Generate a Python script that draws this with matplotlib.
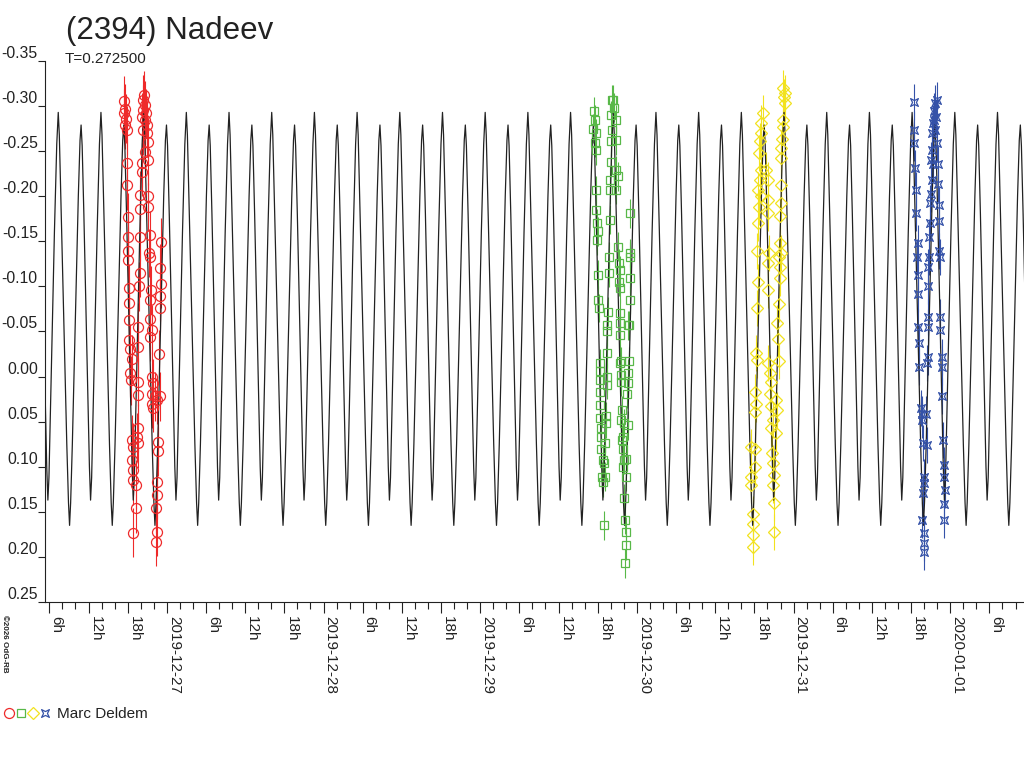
import matplotlib
matplotlib.use("Agg")
import matplotlib.pyplot as plt
import matplotlib.dates as mdates
import numpy as np
from matplotlib.lines import Line2D
from matplotlib.path import Path
from matplotlib.ticker import FixedLocator, FuncFormatter

plt.rcParams["font.family"] = ["Liberation Sans", "DejaVu Sans"]

TITLE = "(2394) Nadeev"
PERIOD_LABEL = "T=0.272500"
OBSERVER = "Marc Deldem"

# model lightcurve: one rotation, phase from the brighter maximum
PERIOD = 0.2725                       # days
EPOCH_DATE, EPOCH_HOUR = "2019-12-29", 7.30
PHASE = [0.000, 0.025, 0.060, 0.130, 0.200, 0.240, 0.265, 0.290, 0.330, 0.400,
         0.470, 0.510, 0.535, 0.560, 0.600, 0.670, 0.730, 0.757, 0.782, 0.840,
         0.910, 0.965, 1.000]
SHAPE = [-0.293, -0.268, -0.200, -0.060, 0.075, 0.140, 0.165, 0.140, 0.075, -0.065,
         -0.200, -0.262, -0.279, -0.256, -0.180, -0.030, 0.100, 0.137, 0.112, -0.010,
         -0.160, -0.258, -0.293]

# session 1 : 2019-12-26 (hours UT, relative magnitude)
S1_DATE = "2019-12-26"
S1_HOUR = [17.47, 17.57, 17.47, 17.72, 17.57, 17.82, 17.93, 17.93, 17.98, 18.08,
           18.08, 18.08, 18.18, 18.23, 18.23, 18.23, 18.33, 18.59, 18.33, 18.44,
           18.59, 18.85, 18.59, 18.74, 18.85, 19.20, 19.20, 18.85,
           20.53, 20.38, 20.63, 20.27, 20.78, 20.12, 20.63, 20.89, 20.38, 20.99,
           21.14, 20.63, 21.14, 20.12, 20.12,
           19.87, 21.14, 19.87, 21.14, 19.87, 21.40, 21.30, 21.40, 19.87, 19.76,
           21.50, 21.40, 21.40, 19.61, 21.65, 21.40, 19.61, 21.65, 21.91, 19.51,
           21.65, 22.16, 21.65, 22.42, 22.93, 21.91, 19.61, 19.61, 19.36, 19.61,
           22.67, 22.67, 22.42, 22.42, 22.32, 22.42, 22.32,
           23.03, 22.93, 23.03, 22.93, 22.93, 22.83]
S1_MAG = [-0.306, -0.297, -0.292, -0.286, -0.279, -0.273, -0.237, -0.212, -0.177, -0.155,
          -0.139, -0.129, -0.098, -0.082, -0.063, -0.041, -0.031, -0.019, -0.004, 0.004,
          0.070, 0.078, 0.092, 0.104, 0.115, 0.120, 0.146, 0.173,
          -0.312, -0.307, -0.301, -0.296, -0.292, -0.288, -0.285, -0.279, -0.273, -0.270,
          -0.260, -0.249, -0.240, -0.237, -0.227,
          -0.201, -0.200, -0.186, -0.188, -0.155, -0.157, -0.137, -0.133, -0.115, -0.100,
          -0.096, -0.085, -0.064, -0.055, -0.052, -0.044, -0.033, 0.000, 0.007, 0.006,
          0.019, 0.022, 0.030, 0.026, 0.022, 0.035, 0.020, 0.057, 0.067, 0.074,
          0.072, 0.083, 0.117, 0.131, 0.146, 0.172, 0.183,
          -0.149, -0.120, -0.103, -0.089, -0.076, -0.025]
S1_ERR = 0.027

# session 2 : 2019-12-29
S2_DATE = "2019-12-29"
S2_HOUR = [17.37, 17.53, 17.27, 17.68, 17.53, 17.78, 17.78, 17.78, 17.89, 18.04,
           17.94, 18.04, 18.04, 18.14, 18.29, 18.29, 18.40, 18.40, 18.40, 18.40,
           18.55, 18.55, 18.55, 18.80, 18.70, 18.80, 18.91,
           18.96, 19.06, 19.21, 19.31, 19.16, 19.42, 19.42, 19.47, 19.42, 19.47,
           19.57, 19.67, 19.72, 19.82, 19.93, 19.82, 20.08, 20.08, 20.23, 20.08,
           20.49, 20.23, 20.34, 20.85, 20.74, 20.85, 21.10, 20.85,
           21.10, 21.25, 21.36, 21.25, 21.36, 21.36, 21.46, 21.36, 21.61, 21.36,
           21.61, 21.61, 21.76, 21.61, 21.97, 21.87, 21.76, 21.87, 21.97, 21.87,
           22.38, 21.97, 22.12, 22.27, 22.27, 22.12,
           22.99, 22.89, 22.99, 22.89, 22.89, 22.79, 22.63, 22.73, 22.63, 22.63,
           22.48, 22.63, 22.38]
S2_MAG = [-0.294, -0.285, -0.275, -0.270, -0.259, -0.251, -0.207, -0.185, -0.170, -0.161,
          -0.151, -0.113, -0.085, -0.076, -0.015, -0.006, 0.004, 0.017, 0.031, 0.046,
          0.057, 0.067, 0.080, 0.092, 0.111, 0.117, 0.165,
          0.096, 0.111, 0.052, 0.044, 0.074, 0.009, 0.001, -0.026, -0.050, -0.057,
          -0.072, -0.115, -0.133, -0.174, -0.207, -0.218, -0.238, -0.261, -0.273, -0.290,
          -0.298, -0.307, -0.307, -0.262, -0.285, -0.229, -0.222, -0.207,
          -0.144, -0.126, -0.118, -0.105, -0.098, -0.070, -0.059, -0.046, -0.017, -0.015,
          -0.002, 0.006, 0.037, 0.048, 0.052, 0.067, 0.070, 0.080, 0.092, 0.100,
          0.111, 0.135, 0.159, 0.172, 0.187, 0.207,
          -0.181, -0.137, -0.133, -0.109, -0.085, -0.057, -0.057, -0.017, -0.004, 0.007,
          0.019, 0.054, 0.091]
S2_ERR = 0.016

# session 3 : 2019-12-30
S3_DATE = "2019-12-30"
S3_HOUR = [19.31, 19.05, 18.95, 18.80, 18.64, 19.05, 18.80, 18.54, 18.95, 18.64,
           18.54, 18.44, 18.54, 18.44, 18.29, 18.44, 18.13, 18.29, 18.13, 17.42,
           18.03, 18.13, 17.42, 17.52, 17.78, 17.78, 17.78, 17.78,
           19.82, 20.07, 20.07, 20.07, 20.18, 20.07, 20.07, 20.07, 20.33, 20.48,
           20.33, 20.58, 20.84, 20.48, 20.69, 20.84, 20.99, 20.84, 20.99, 20.99,
           21.35, 21.50, 21.35, 21.71, 21.61, 21.50, 21.71, 21.86, 21.86, 21.76,
           22.01, 21.86, 21.86, 22.12, 22.01, 22.01, 22.12, 22.22, 22.37, 22.37,
           22.63, 22.52, 22.63, 22.37]
S3_MAG = [-0.292, -0.281, -0.270, -0.261, -0.248, -0.229, -0.218, -0.207, -0.200, -0.188,
          -0.170, -0.139, -0.105, -0.076, -0.026, -0.018, 0.017, 0.030, 0.039, 0.078,
          0.080, 0.100, 0.111, 0.120, 0.152, 0.163, 0.176, 0.189,
          -0.229, -0.218, -0.196, -0.181, -0.137, -0.126, -0.096, -0.015, -0.004, 0.006,
          0.019, 0.033, 0.048, 0.057, 0.085, 0.096, 0.109, 0.120, 0.140, 0.172,
          0.063, 0.037, 0.026, -0.017, -0.042, -0.059, -0.081, -0.109, -0.122, -0.133,
          -0.137, -0.148, -0.178, -0.192, -0.212, -0.242, -0.253, -0.264, -0.277, -0.285,
          -0.303, -0.310, -0.314, -0.320]
S3_ERR = 0.02

# session 4 : 2019-12-31
S4_DATE = "2019-12-31"
S4_HOUR = [18.50, 18.50, 18.50, 18.60, 18.70, 18.70, 19.01, 18.86, 19.01, 19.11,
           19.11, 19.21, 19.21, 19.52, 19.62, 19.73, 19.88, 20.03, 20.03, 19.88,
           19.73, 20.03, 20.03, 20.03,
           20.24, 20.39, 20.39, 20.64, 20.64, 20.54, 20.64, 20.64, 20.75, 20.75,
           20.90, 20.90, 21.05, 21.15, 21.05, 21.26, 21.15, 21.41, 21.56, 21.66,
           21.92, 21.56, 21.66, 21.77, 21.41,
           21.92, 22.07, 22.18, 22.28, 22.28, 22.28, 22.43, 22.43, 22.43, 22.69,
           22.69, 22.79, 22.94, 23.09, 23.09, 23.20, 23.09, 23.09]
S4_MAG = [-0.305, -0.274, -0.259, -0.231, -0.207, -0.181, -0.148, -0.133, -0.113, -0.092,
          -0.055, -0.037, -0.011, 0.035, 0.041, 0.048, 0.074, 0.111, 0.118, 0.129,
          0.159, 0.174, 0.185, 0.194,
          0.041, 0.076, -0.015, -0.022, -0.066, -0.055, -0.100, -0.122, -0.133, -0.155,
          -0.170, -0.192, -0.203, -0.218, -0.240, -0.251, -0.270, -0.281, -0.294, -0.303,
          -0.307, -0.285, -0.274, -0.288, -0.236,
          -0.259, -0.236, -0.214, -0.190, -0.172, -0.139, -0.133, -0.066, -0.052, -0.022,
          -0.011, 0.022, 0.070, 0.098, 0.111, 0.126, 0.141, 0.159]
S4_ERR = 0.02

X_START = ("2019-12-26", 5.33)
X_END = ("2020-01-01", 11.3)
Y_TICKS = [-0.35, -0.30, -0.25, -0.20, -0.15, -0.10, -0.05, 0.00, 0.05, 0.10, 0.15, 0.20, 0.25]

RED, GREEN, YELLOW, BLUE = "#ee2a2a", "#58b848", "#f2e21e", "#3552a8"
INK = "#222222"

# concave square used for the last session
STAR = Path([(-1, -1), (0, -0.5), (1, -1), (0.5, 0), (1, 1), (0, 0.5), (-1, 1), (-0.5, 0), (-1, -1)],
            [Path.MOVETO] + [Path.LINETO] * 7 + [Path.CLOSEPOLY])


def to_num(day, hours):
    return mdates.date2num(np.datetime64(day)) + np.asarray(hours) / 24.0


fig = plt.figure(figsize=(10.24, 7.68), dpi=100)
ax = fig.add_axes([45 / 1024, 1 - 602 / 768, 979 / 1024, 541 / 768])

# model curve repeated over the whole span
epoch = to_num(EPOCH_DATE, EPOCH_HOUR)
ph = np.array(PHASE[:-1])
t_mod = np.concatenate([epoch + (k + ph) * PERIOD for k in range(-13, 14)])
m_mod = np.tile(SHAPE[:-1], 27)

sessions = [
    (S1_DATE, S1_HOUR, S1_MAG, S1_ERR, RED, "o", 7.2),
    (S2_DATE, S2_HOUR, S2_MAG, S2_ERR, GREEN, "s", 5.2),
    (S3_DATE, S3_HOUR, S3_MAG, S3_ERR, YELLOW, "D", 6.0),
    (S4_DATE, S4_HOUR, S4_MAG, S4_ERR, BLUE, STAR, 5.6),
]
for day, hrs, mags, err, col, mk, ms in sessions:
    t = to_num(day, hrs)
    ax.errorbar(t, mags, yerr=err, fmt="none", ecolor=col, elinewidth=0.8,
                capsize=0, zorder=1.5)
    ax.plot(t, mags, ls="none", marker=mk, mfc="none", mec=col, ms=ms, mew=0.9, zorder=3)

ax.plot(t_mod, m_mod, color=INK, lw=0.9, zorder=2)

ax.set_xlim(to_num(*X_START), to_num(*X_END))
ax.set_ylim(0.25, -0.35)

for s in ["top", "right"]:
    ax.spines[s].set_visible(False)
for s in ["left", "bottom"]:
    ax.spines[s].set_color(INK)
    ax.spines[s].set_linewidth(0.8)

ax.yaxis.set_major_locator(FixedLocator(Y_TICKS))
ax.yaxis.set_major_formatter(FuncFormatter(lambda v, p: f"{v:.2f}".replace("-0.00", "0.00")))
ax.tick_params(axis="y", direction="out", length=5.2, width=0.8, color=INK, pad=0,
               labelsize=11.3, labelcolor=INK)
for lab in ax.get_yticklabels():
    lab.set_verticalalignment("bottom")

ax.xaxis.set_major_locator(mdates.HourLocator(byhour=[0, 6, 12, 18]))
ax.xaxis.set_minor_locator(mdates.HourLocator(byhour=range(0, 24, 2)))


def fmt_x(v, pos):
    d = mdates.num2date(v)
    if d.hour == 0:
        return d.strftime("%Y-%m-%d")
    return f"{d.hour}h"


ax.xaxis.set_major_formatter(FuncFormatter(fmt_x))
ax.tick_params(axis="x", which="major", direction="out", length=8, width=0.8, color=INK,
               pad=2, labelsize=11, labelcolor=INK)
ax.tick_params(axis="x", which="minor", direction="out", length=5, width=0.8, color=INK)
for lab in ax.get_xticklabels():
    lab.set_rotation(270)
    lab.set_horizontalalignment("left")
    lab.set_verticalalignment("top")

fig.text(66 / 1024, 1 - 39 / 768, TITLE, fontsize=22.5, color=INK, va="baseline")
fig.text(65 / 1024, 1 - 63 / 768, PERIOD_LABEL, fontsize=11, color=INK, va="baseline")
fig.text(1 / 1024, 1 - 615 / 768, "\u00a92026 OdG-RB", fontsize=5.8, weight="bold",
         color=INK, rotation=270, ha="left", va="top")

# observer key at bottom left
key = [(RED, "o", 7.2), (GREEN, "s", 5.2), (YELLOW, "D", 6.0), (BLUE, STAR, 5.6)]
for i, (col, mk, ms) in enumerate(key):
    fig.add_artist(Line2D([(9 + 12 * i) / 1024], [1 - 713 / 768], transform=fig.transFigure,
                          marker=mk, ms=ms, mfc="none", mec=col, mew=0.9, ls="none"))
fig.text(57 / 1024, 1 - 718 / 768, OBSERVER, fontsize=11, color=INK, va="baseline")

fig.savefig("out.png", dpi=100)
